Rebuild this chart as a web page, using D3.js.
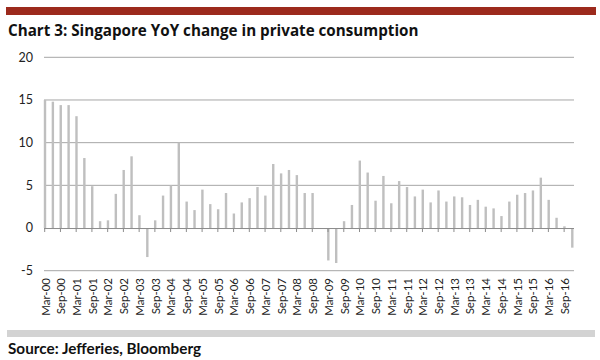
<!DOCTYPE html>
<html>
<head>
<meta charset="utf-8">
<script src="https://cdn.jsdelivr.net/npm/d3@7"></script>
<style>
  html, body { margin: 0; padding: 0; background: #fff; }
  svg { display: block; }
</style>
</head>
<body>
<svg id="chart" width="600" height="360"></svg>
<script>
const title = "Chart 3: Singapore YoY change in private consumption";
const source = "Source: Jefferies, Bloomberg";

const years = d3.range(0, 17).map(y => String(y).padStart(2, "0"));
const months = ["Mar", "Jun", "Sep", "Dec"];
const quarters = years.flatMap(y => months.map(m => m + "-" + y));

const yoyChange = [
  15.0, 14.8, 14.4, 14.4, 13.1, 8.2, 4.9, 0.8,
  0.9, 4.0, 6.8, 8.4, 1.5, -3.4, 0.9, 3.8,
  5.0, 10.0, 3.1, 2.1, 4.5, 2.8, 2.2, 4.1,
  1.7, 3.0, 3.5, 4.8, 3.8, 7.5, 6.4, 6.8,
  6.2, 4.1, 4.1, -0.1, -3.8, -4.1, 0.8, 2.7,
  7.9, 6.5, 3.2, 6.1, 2.9, 5.5, 4.8, 3.7,
  4.5, 3.0, 4.4, 3.1, 3.7, 3.6, 2.7, 3.3,
  2.5, 2.3, 1.4, 3.1, 3.9, 4.1, 4.4, 5.9,
  3.3, 1.2, 0.2, -2.3
];

const yTicks = [-5, 0, 5, 10, 15, 20];
const tickLabels = quarters.filter(q => q.startsWith("Mar") || q.startsWith("Sep"));

const svg = d3.select("#chart");
const font = "Lato, 'Open Sans', sans-serif";
const titleFont = "'Open Sans', Lato, sans-serif";

// top red band
svg.append("rect").attr("x", 6).attr("y", 7).attr("width", 590).attr("height", 8).attr("fill", "#9c2a1d");

svg.append("text").attr("x", 8).attr("y", 36)
  .attr("font-family", titleFont).attr("font-weight", 700).attr("font-size", 15.2)
  .attr("fill", "#111").text(title);

const plotLeft = 44, plotRight = 574;
const x = d3.scalePoint().domain(quarters).range([45, 572.3]);
const y = d3.scaleLinear().domain([-5, 20]).range([270.7, 57.3]);

// gridlines
svg.append("g").selectAll("line").data(yTicks.filter(d => d !== 0)).join("line")
  .attr("x1", plotLeft).attr("x2", plotRight)
  .attr("y1", d => y(d)).attr("y2", d => y(d))
  .attr("stroke", "#a6a6a6").attr("stroke-width", 1);

// y labels
svg.append("g").selectAll("text").data(yTicks).join("text")
  .attr("x", 33).attr("y", d => y(d)).attr("dy", "0.35em")
  .attr("text-anchor", "end")
  .attr("font-family", font).attr("font-size", 12.5).attr("fill", "#222")
  .text(d => d);

// bars
const bw = 2.4;
svg.append("g").selectAll("rect").data(yoyChange).join("rect")
  .attr("x", (d, i) => x(quarters[i]) - bw / 2)
  .attr("y", d => Math.min(y(d), y(0)))
  .attr("width", bw)
  .attr("height", d => Math.abs(y(d) - y(0)))
  .attr("fill", "#bfbfbf");

// x axis
const xAxis = d3.axisBottom(x)
  .tickValues(tickLabels)
  .tickSize(4)
  .tickSizeOuter(0);
const gx = svg.append("g").attr("transform", `translate(-0.8,${y(0)})`).call(xAxis);
gx.select(".domain").attr("d", `M${plotLeft + 0.8},0.5H${plotRight + 0.8}`).attr("stroke", "#8c8c8c");
gx.selectAll(".tick line").attr("stroke", "#8c8c8c");
gx.selectAll(".tick text").remove();

// x labels
svg.append("g").selectAll("text").data(tickLabels).join("text")
  .attr("transform", d => `translate(${x(d) + 4.5},278) rotate(-90)`)
  .attr("text-anchor", "end")
  .attr("font-family", font).attr("font-size", 11.5).attr("fill", "#222")
  .text(d => d);

// bottom grey band
svg.append("rect").attr("x", 7).attr("y", 330).attr("width", 588).attr("height", 7).attr("fill", "#d3d3d3");

svg.append("text").attr("x", 8).attr("y", 354)
  .attr("font-family", font).attr("font-weight", 700).attr("font-size", 15.3)
  .attr("fill", "#111").text(source);
</script>
</body>
</html>
